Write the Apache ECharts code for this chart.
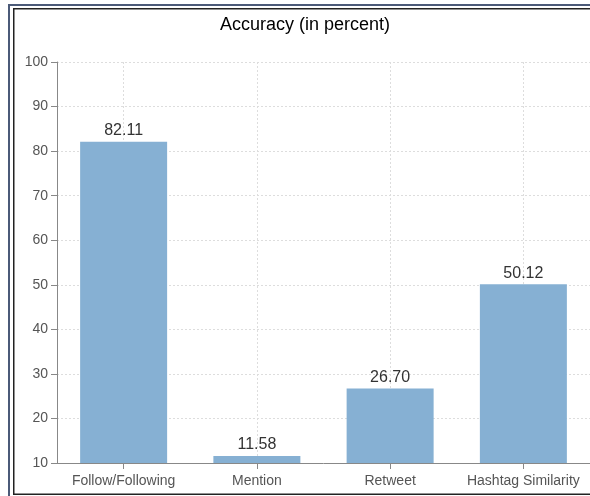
<!DOCTYPE html>
<html>
<head>
<meta charset="utf-8">
<script src="https://cdn.jsdelivr.net/npm/echarts@6/dist/echarts.min.js"></script>
<style>
  html, body { margin: 0; padding: 0; background: #fff; }
  #chart { width: 590px; height: 496px; }
</style>
</head>
<body>
<div id="chart"></div>
<script>
// Accuracy per relation type
const categories = ['Follow/Following', 'Mention', 'Retweet', 'Hashtag Similarity'];
const accuracy = [82.11, 11.58, 26.70, 50.12];
const yTicks = { min: 10, max: 100, step: 10 };

const chart = echarts.init(document.getElementById('chart'), null, { renderer: 'canvas' });

const frameBlue = '#4b5a78';
const frameDark = '#222';
const font = 'Liberation Sans, Arial';

chart.setOption({
  animation: false,
  backgroundColor: '#fff',
  title: {
    text: 'Accuracy (in percent)',
    left: 300,
    textAlign: 'center',
    top: 11,
    textStyle: { fontFamily: font, fontSize: 18, fontWeight: 'normal', color: '#000' }
  },
  grid: { left: 57, top: 62, width: 534, height: 401, containLabel: false },
  xAxis: {
    type: 'category',
    data: categories,
    axisLine: { lineStyle: { color: '#888', width: 1 } },
    axisTick: { show: true, interval: 0, alignWithLabel: true, length: 6, lineStyle: { color: '#888' } },
    axisLabel: { interval: 0, hideOverlap: false, color: '#555', fontSize: 14, fontFamily: font, margin: 11 },
    splitLine: { show: true, interval: 0, alignWithLabel: true, lineStyle: { color: '#ddd', type: [2, 2] } }
  },
  yAxis: {
    type: 'value',
    min: yTicks.min,
    max: yTicks.max,
    interval: yTicks.step,
    axisLine: { show: true, lineStyle: { color: '#888', width: 1 } },
    axisTick: { show: true, length: 6, lineStyle: { color: '#888' } },
    axisLabel: { color: '#555', fontSize: 14, fontFamily: font, margin: 9 },
    splitLine: { show: true, lineStyle: { color: '#ddd', type: [2, 2] } }
  },
  series: [{
    type: 'bar',
    data: accuracy,
    barWidth: 87,
    itemStyle: { color: '#86b0d3' },
    label: {
      show: true,
      position: 'top',
      distance: 3,
      formatter: p => p.value.toFixed(2),
      color: '#333',
      fontSize: 16,
      fontFamily: font
    }
  }],
  graphic: [
    // outer blue frame (top and left)
    { type: 'rect', shape: { x: 8, y: 4, width: 582, height: 2 }, style: { fill: frameBlue }, silent: true },
    { type: 'rect', shape: { x: 8, y: 4, width: 2, height: 492 }, style: { fill: frameBlue }, silent: true },
    // inner dark frame
    { type: 'rect', shape: { x: 13, y: 8, width: 577, height: 1.5 }, style: { fill: frameDark }, silent: true },
    { type: 'rect', shape: { x: 13, y: 8, width: 1.5, height: 487 }, style: { fill: frameDark }, silent: true },
    { type: 'rect', shape: { x: 13, y: 493.5, width: 577, height: 1.5 }, style: { fill: frameDark }, silent: true }
  ]
});
</script>
</body>
</html>
